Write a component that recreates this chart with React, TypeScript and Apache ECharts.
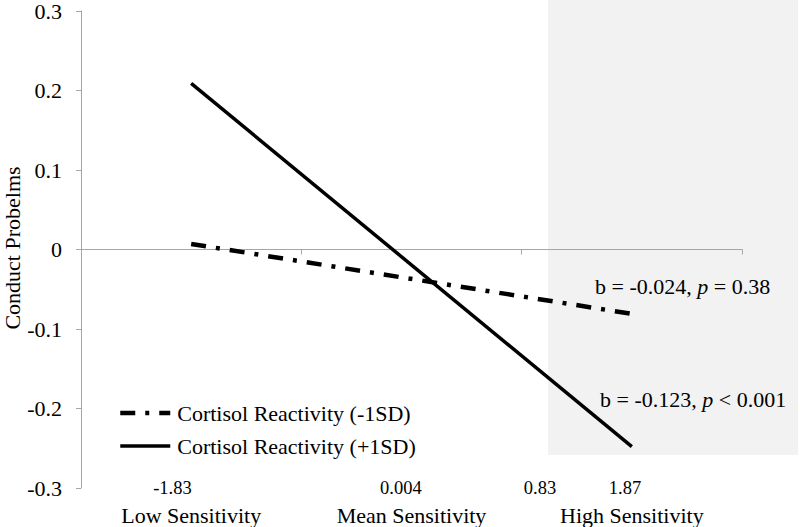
import React, { useEffect, useRef } from "react";
import * as echarts from "echarts";

const FONT = "Liberation Serif";

// Data
const categories = ["Low Sensitivity", "Mean Sensitivity", "High Sensitivity"];
const sensitivityLabels = ["-1.83", "0.004", "0.83", "1.87"];
const lowCortisolName = "Cortisol Reactivity (-1SD)";
const highCortisolName = "Cortisol Reactivity (+1SD)";
const lowCortisol = [0.007, null, -0.081];
const highCortisol = [0.209, null, -0.248];
const yMin = -0.3;
const yMax = 0.3;
const yStep = 0.1;
const yTitle = "Conduct Probelms";
const lowNote = ["b = -0.024, ", "p", " = 0.38"];
const highNote = ["b = -0.123, ", "p", " < 0.001"];

// Layout anchors (along the 3-category band, 0..3)
const sensitivityAnchors = [0.415, 1.452, 2.083, 2.469];

export default function App() {
  const ref = useRef<HTMLDivElement>(null);
  useEffect(() => {
    const chart = echarts.init(ref.current as HTMLDivElement, null, { renderer: "svg" });
    const axisGray = "#a6a6a6";
    const dashDot = [15, 10, 4, 10];
    chart.setOption({
      animation: false,
      backgroundColor: "#ffffff",
      textStyle: { fontFamily: FONT },
      grid: { left: 81, right: 58, top: 10, bottom: 39, containLabel: false },
      legend: {
        orient: "vertical",
        left: 118,
        top: 402,
        padding: 0,
        itemWidth: 50,
        itemHeight: 14,
        itemGap: 11,
        itemStyle: { opacity: 0 },
        textStyle: { fontFamily: FONT, fontSize: 22, color: "#000", lineHeight: 22, padding: [0, 0, 0, 2] },
        data: [
          { name: lowCortisolName, lineStyle: { width: 4.5, type: dashDot, color: "#000" } },
          { name: highCortisolName, lineStyle: { width: 3.5, type: "solid", color: "#000" } },
        ],
      },
      xAxis: [
        {
          type: "category",
          data: categories,
          boundaryGap: true,
          position: "bottom",
          axisLine: { show: true, onZero: true, lineStyle: { color: axisGray, width: 1 } },
          axisTick: { show: true, length: 5, lineStyle: { color: axisGray } },
          axisLabel: { show: false },
          splitLine: { show: false },
        },
        {
          type: "category",
          data: categories,
          boundaryGap: true,
          position: "bottom",
          axisLine: { show: false, onZero: false },
          axisTick: { show: false },
          axisLabel: {
            show: true,
            margin: 27,
            verticalAlign: "middle",
            fontFamily: FONT,
            fontSize: 22,
            color: "#000",
            interval: 0,
          },
          splitLine: { show: false },
        },
        {
          type: "value",
          min: 0,
          max: 3,
          position: "bottom",
          axisLine: { show: false, onZero: false },
          axisTick: { show: false },
          splitLine: { show: false },
          axisLabel: {
            show: true,
            customValues: sensitivityAnchors,
            margin: 0,
            verticalAlign: "middle",
            fontFamily: FONT,
            fontSize: 18.5,
            color: "#000",
            formatter: (v: number) => {
              const i = sensitivityAnchors.indexOf(v);
              return i >= 0 ? sensitivityLabels[i] : "";
            },
          },
        },
      ],
      yAxis: {
        type: "value",
        min: yMin,
        max: yMax,
        interval: yStep,
        axisLine: { show: true, lineStyle: { color: axisGray, width: 1 } },
        axisTick: { show: true, length: 5, lineStyle: { color: axisGray } },
        splitLine: { show: false },
        axisLabel: {
          margin: 19,
          fontFamily: FONT,
          fontSize: 22,
          color: "#000",
          formatter: (v: number) => (Math.abs(v) < 1e-9 ? "0" : v.toFixed(1)),
        },
      },
      graphic: [
        {
          type: "rect",
          z: -10,
          silent: true,
          shape: { x: 548, y: 0, width: 250, height: 455 },
          style: { fill: "#f2f2f2" },
        },
        {
          type: "text",
          x: 12,
          y: 248,
          rotation: Math.PI / 2,
          style: {
            text: yTitle,
            fontFamily: FONT,
            fontSize: 22,
            lineHeight: 22,
            fill: "#000",
            align: "center",
            verticalAlign: "middle",
          },
        },
        {
          type: "text",
          x: 595,
          y: 286,
          z: 10,
          style: {
            text: lowNote[0] + "{i|" + lowNote[1] + "}" + lowNote[2],
            fontFamily: FONT,
            fontSize: 22,
            fill: "#000",
            align: "left",
            verticalAlign: "middle",
            rich: { i: { fontFamily: FONT, fontSize: 22, fontStyle: "italic", fill: "#000" } },
          },
        },
        {
          type: "text",
          x: 600,
          y: 399,
          z: 10,
          style: {
            text: highNote[0] + "{i|" + highNote[1] + "}" + highNote[2],
            fontFamily: FONT,
            fontSize: 22,
            fill: "#000",
            align: "left",
            verticalAlign: "middle",
            rich: { i: { fontFamily: FONT, fontSize: 22, fontStyle: "italic", fill: "#000" } },
          },
        },
      ],
      series: [
        {
          name: lowCortisolName,
          type: "line",
          xAxisIndex: 0,
          data: lowCortisol.map((v) => (v === null ? "-" : v)),
          connectNulls: true,
          symbol: "none",
          z: 3,
          lineStyle: { color: "#000", width: 4.5, type: dashDot, cap: "butt" },
          itemStyle: { color: "#000" },
        },
        {
          name: highCortisolName,
          type: "line",
          xAxisIndex: 0,
          data: highCortisol.map((v) => (v === null ? "-" : v)),
          connectNulls: true,
          symbol: "none",
          z: 3,
          lineStyle: { color: "#000", width: 3.5, type: "solid" },
          itemStyle: { color: "#000" },
        },
      ],
    });
    return () => chart.dispose();
  }, []);
  return (
    <div
      ref={ref}
      style={{ position: "fixed", left: 0, top: 0, width: 800, height: 527, background: "#fff" }}
    />
  );
}
